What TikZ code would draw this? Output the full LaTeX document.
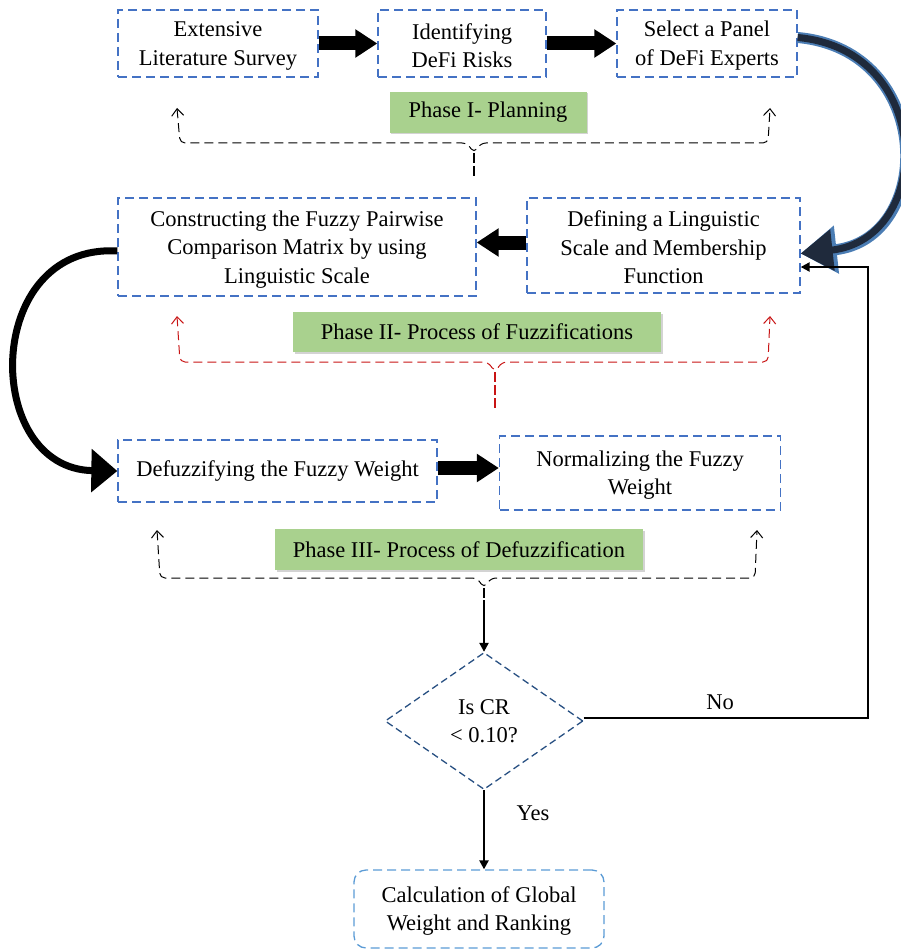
\documentclass[tikz,border=0pt]{standalone}
\usepackage{fontspec}
\setmainfont{Liberation Serif}
\usetikzlibrary{positioning,arrows.meta,shapes.geometric,shadows}
\definecolor{boxblue}{RGB}{68,114,196}
\definecolor{lightblue}{RGB}{91,155,213}
\definecolor{decblue}{RGB}{40,80,130}
\definecolor{phasegreen}{RGB}{169,209,142}
\definecolor{bracered}{RGB}{200,20,20}
\definecolor{navy}{RGB}{31,42,60}
\definecolor{edgeblue}{RGB}{75,125,180}

\begin{document}
\begin{tikzpicture}[x=1pt, y=-1pt]
\tikzstyle{every node}=[font=\fontsize{22.5}{28.5}\selectfont, align=center, inner sep=2pt]
\tikzstyle{procbox}=[draw=boxblue, line width=1.3pt, dash pattern=on 9pt off 5pt]
\tikzstyle{phaselabel}=[fill=phasegreen, drop shadow={shadow xshift=1.5pt, shadow yshift=-1.5pt, opacity=.35}]
\tikzstyle{decision}=[diamond, draw=decblue, line width=1.3pt, dash pattern=on 7pt off 4pt,
                      minimum width=198pt, minimum height=137pt, inner sep=0pt]
\tikzstyle{blockarrow}=[line width=14pt, -{Triangle[length=22pt, width=27pt]}]
\tikzstyle{phasebrace}=[line width=1pt, dash pattern=on 9pt off 5pt, rounded corners=5pt]
\tikzstyle{bracetail}=[line width=1.2pt, dash pattern=on 10pt off 3pt]
\tikzstyle{barbs}=[{Straight Barb[length=7pt, width=12pt]}-{Straight Barb[length=7pt, width=12pt]}]
\tikzstyle{plainarrow}=[line width=2.2pt, -{Triangle[length=9pt, width=9pt]}]
\useasboundingbox (0,0) rectangle (901,952);

% phase I
\node[procbox, minimum width=200pt, minimum height=67pt] (survey) at (218,43.5) {\strut Extensive\\Literature Survey};
\node[procbox, minimum width=168pt, minimum height=67pt] (risks) at (462,43.5) {\strut Identifying\\DeFi Risks};
\node[procbox, minimum width=180pt, minimum height=67pt] (panel) at (707,43.5) {\strut Select a Panel\\of DeFi Experts};
\node[phaselabel, minimum width=197pt, minimum height=41pt] (phaseI) at (488,112.5) {Phase I- Planning};

% phase II
\node[procbox, minimum width=358pt, minimum height=98pt] (matrix) at (297,247) {\strut Constructing the Fuzzy Pairwise\\Comparison Matrix by using\\Linguistic Scale};
\node[procbox, minimum width=273pt, minimum height=95pt] (scale) at (663.5,245.5) {\strut Defining a Linguistic\\Scale and Membership\\Function};
\node[phaselabel, minimum width=368pt, minimum height=40pt] (phaseII) at (477,332) {Phase II- Process of Fuzzifications};

% phase III
\node[procbox, minimum width=319pt, minimum height=62pt] (defuzz) at (277.5,471) {Defuzzifying the Fuzzy Weight};
\node[procbox, minimum width=281pt, minimum height=74pt] (norm) at (640,473) {\strut Normalizing the Fuzzy\\Weight};
\node[phaselabel, minimum width=368pt, minimum height=41pt] (phaseIII) at (459,549.5) {Phase III- Process of Defuzzification};

% decision and result
\node[decision] (check) at (484,721) {Is CR\\< 0.10?};
\node[procbox, draw=lightblue, rounded corners=12pt, minimum width=250pt, minimum height=78pt] (global) at (479,909) {\strut Calculation of Global\\Weight and Ranking};

% straight block arrows
\draw[blockarrow] (survey.east) -- (risks.west);
\draw[blockarrow] (risks.east) -- (panel.west);
\draw[blockarrow] ([yshift=3pt]scale.west) -- ([yshift=3pt]scale.west -| matrix.east);
\draw[blockarrow] ([yshift=3pt]defuzz.east) -- ([yshift=3pt]defuzz.east -| norm.west);

% curved arrows
\draw[edgeblue, line width=11pt, -{Triangle[length=36pt, width=46pt]}]
  ([yshift=6pt]panel.east) .. controls (935,50) and (935,239) .. ([yshift=-8pt]scale.east);
\draw[navy, line width=7pt, -{Triangle[length=32pt, width=40pt]}]
  ([yshift=6pt]panel.east) .. controls (935,50) and (935,239) .. ([yshift=-8pt]scale.east);
\draw[black, line width=7pt, -{Triangle[length=26pt, width=42pt]}]
  ([yshift=-4pt]matrix.west) .. controls (-18,243) and (-18,469) .. (defuzz.west);

% phase braces
\draw[phasebrace, barbs]
  (177,108) -- (180,143) -- (467,143) -- (474,153) -- (481,143) -- (768,143) -- (770,108);
\draw[bracetail] (474,153) -- (474,178);
\draw[phasebrace, bracered, barbs]
  (177,316) -- (180,362) -- (488,362) -- (495,372) -- (502,362) -- (768,362) -- (770,316);
\draw[bracetail, bracered] (495,372) -- (495,408);
\draw[phasebrace, barbs]
  (157,530) -- (160,578) -- (477,578) -- (484,588) -- (491,578) -- (755,578) -- (757,530);
\draw[bracetail] (484,588) -- (484,600);
\coordinate (braceIII) at (484,600);

% flow after the check
\draw[plainarrow] (braceIII) -- (check.north);
\coordinate (loopcorner) at (868,718);
\draw[plainarrow] (check.east |- loopcorner) -- (loopcorner) -- (loopcorner |- 0,267) -- (scale.east |- 0,267);
\draw[plainarrow] (check.south) -- (check.south |- global.north);
\node (no) at (720,702) {No};
\node (yes) at (533,813) {Yes};
\end{tikzpicture}
\end{document}
